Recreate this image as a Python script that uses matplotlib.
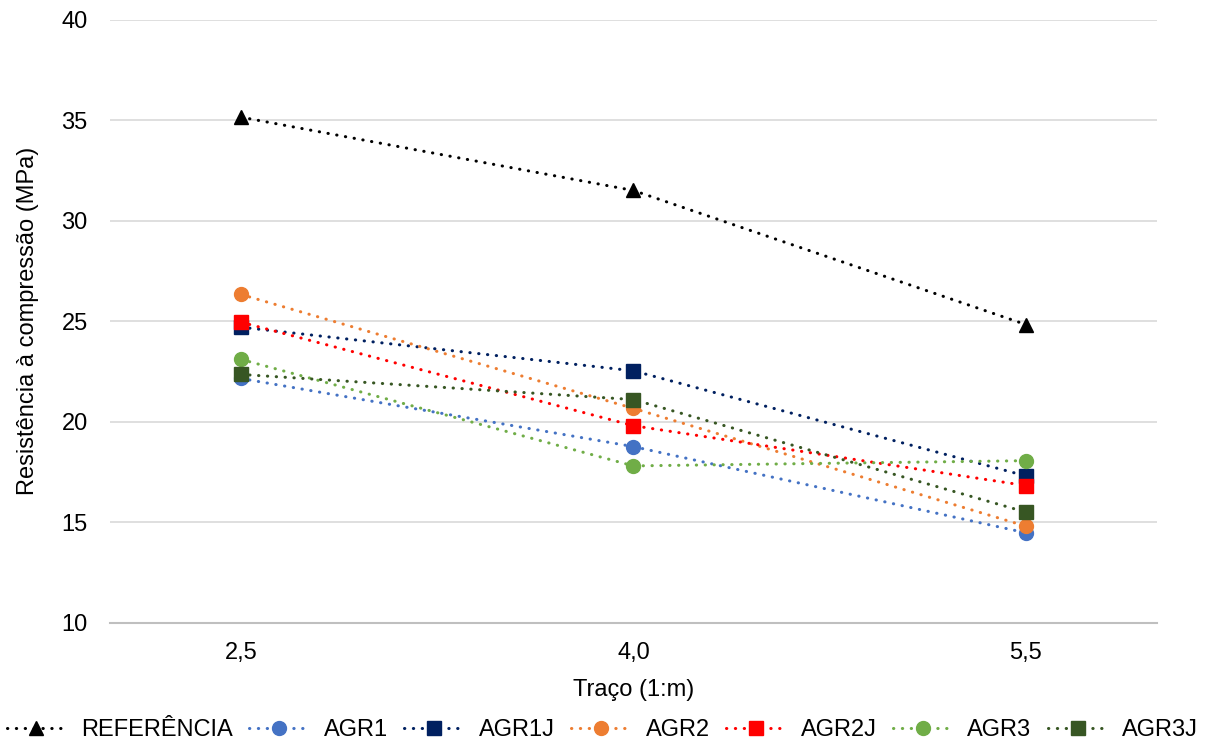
import matplotlib
matplotlib.use("Agg")
import matplotlib.pyplot as plt

plt.rcParams['font.family'] = ['Liberation Sans', 'DejaVu Sans']

# data
traco = [2.5, 4.0, 5.5]
traco_labels = ['2,5', '4,0', '5,5']

referencia = [35.15, 31.5, 24.83]
agr1 = [22.15, 18.76, 14.47]
agr1j = [24.7, 22.53, 17.3]
agr2 = [26.33, 20.66, 14.8]
agr2j = [24.95, 19.8, 16.82]
agr3 = [23.1, 17.8, 18.06]
agr3j = [22.35, 21.1, 15.5]

series = [
    ('REFERÊNCIA', referencia, '#000000', '^'),
    ('AGR1', agr1, '#4472C4', 'o'),
    ('AGR1J', agr1j, '#002060', 's'),
    ('AGR2', agr2, '#ED7D31', 'o'),
    ('AGR2J', agr2j, '#FF0000', 's'),
    ('AGR3', agr3, '#70AD47', 'o'),
    ('AGR3J', agr3j, '#375623', 's'),
]

fig = plt.figure(figsize=(12.05, 7.40), dpi=100)
ax = fig.add_axes([0.0913, 0.1585, 0.8687, 0.815])

for name, vals, color, marker in series:
    ax.plot(traco, vals, color=color, marker=marker, markersize=10,
            linewidth=2.2, linestyle=(0, (0.1, 2.8)),
            dash_capstyle='round', label=name, clip_on=False)

ax.set_xlim(2.0, 6.0)
ax.set_ylim(10, 40)
ax.set_xticks(traco)
ax.set_xticklabels(traco_labels)
ax.set_yticks(range(10, 41, 5))
ax.grid(axis='y', color='#D9D9D9', linewidth=1.2)
ax.set_axisbelow(True)
for side in ['top', 'right', 'left']:
    ax.spines[side].set_visible(False)
ax.spines['bottom'].set_color('#BFBFBF')
ax.spines['bottom'].set_linewidth(1.5)
ax.tick_params(axis='both', length=0, labelsize=17, colors='#000000')
ax.tick_params(axis='y', pad=16)
ax.tick_params(axis='x', pad=14)

ax.set_xlabel('Traço (1:m)', fontsize=17, labelpad=11)
ax.set_ylabel('Resistência à compressão (MPa)', fontsize=17, labelpad=16)

fig.legend(loc='lower center', bbox_to_anchor=(0.5, -0.03), ncol=7,
           frameon=False, fontsize=17, handlelength=2.5, columnspacing=0.7,
           handletextpad=0.65)

fig.savefig('out.png', dpi=100)
